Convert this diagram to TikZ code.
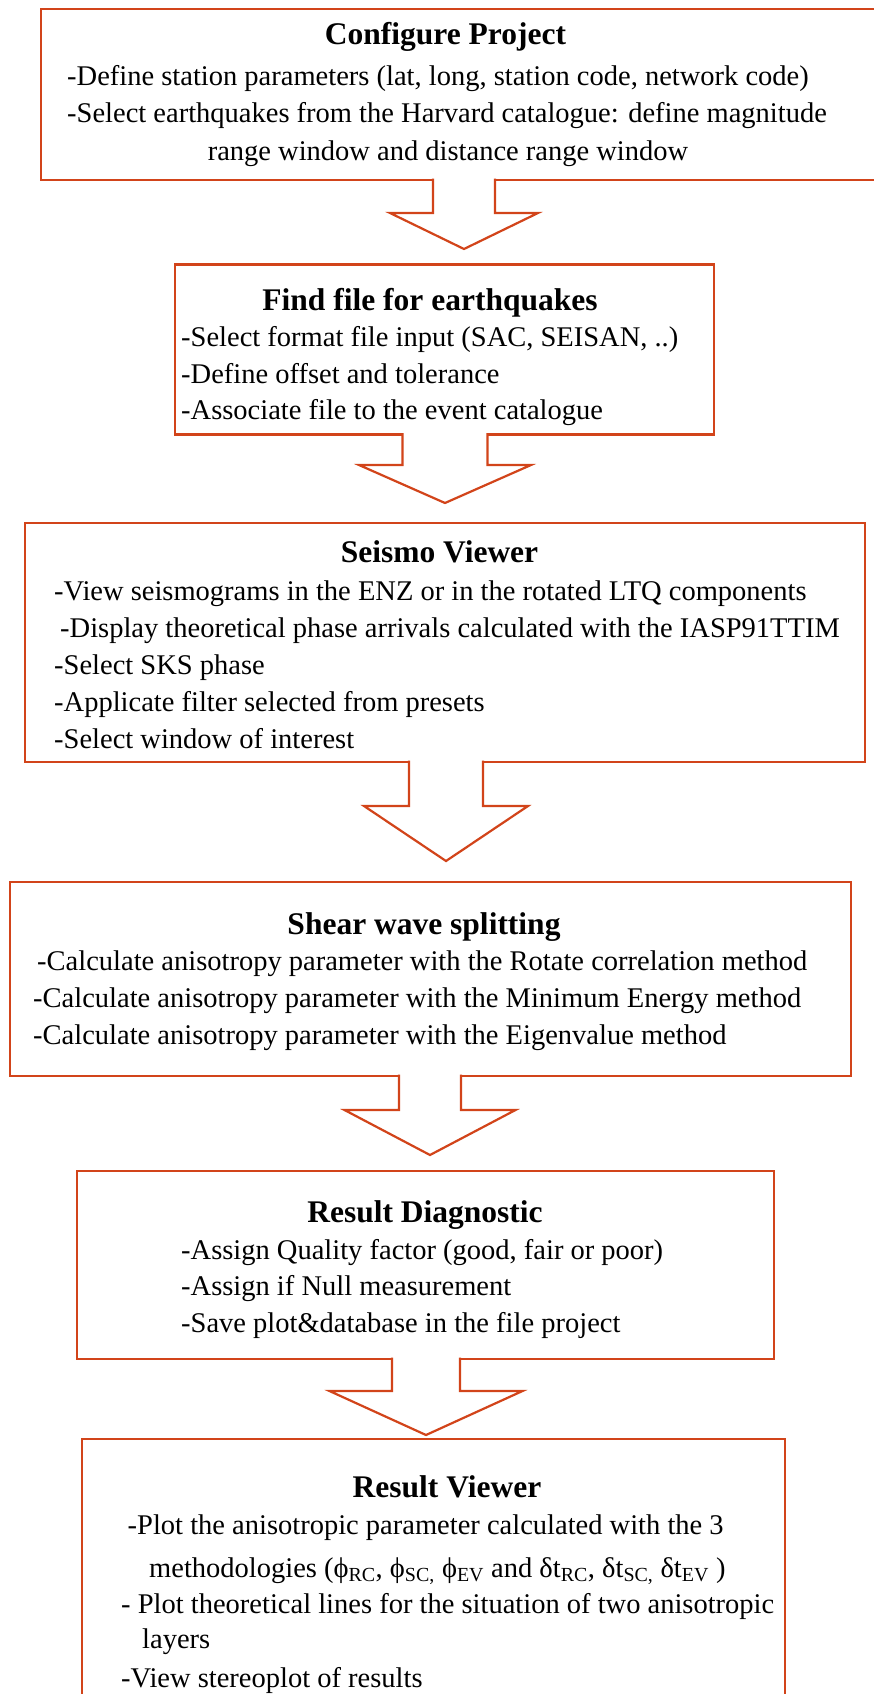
\documentclass[tikz,border=0pt]{standalone}
\usepackage{fontspec}
\setmainfont{Liberation Serif}
\usetikzlibrary{calc}
\definecolor{boxred}{RGB}{210,68,26}
\begin{document}
\begin{tikzpicture}[x=1pt,y=-1pt,
  flowbox/.style={draw=boxred, line width=2.2pt, rectangle, inner sep=0pt, outer sep=0pt},
  blockarrow/.style={draw=boxred, fill=white, line width=2.2pt},
  boxtitle/.style={font=\fontsize{31.5}{36}\selectfont\bfseries, anchor=base, inner sep=0pt},
  boxline/.style={font=\fontsize{28.5}{36}\selectfont, anchor=base west, inner sep=0pt}]
\useasboundingbox (0,0) rectangle (874,1694);
\clip (0,0) rectangle (874,1694);
% the six steps
\node[flowbox, minimum width=843pt, minimum height=171pt] (project) at (462.5,94.5){};
\node[flowbox, minimum width=539pt, minimum height=170pt] (findfile) at (444.5,349.5){};
\node[flowbox, minimum width=840pt, minimum height=239pt] (viewer) at (445,642.5){};
\node[flowbox, minimum width=841pt, minimum height=194pt] (splitting) at (430.5,979){};
\node[flowbox, minimum width=697pt, minimum height=188pt] (diagnostic) at (425.5,1265){};
\node[flowbox, minimum width=703pt, minimum height=281pt] (results) at (433.5,1579.5){};
% texts
\node[boxtitle] (t1) at (445.5,45){Configure Project};
\node[boxline] (l1a) at (67,85){-Define station parameters (lat, long, station code, network code)};
\node[boxline] (l1b) at (67,122){-Select earthquakes from the Harvard catalogue: define magnitude};
\node[boxline, anchor=base] (l1c) at (448,160){range window and distance range window};
\node[boxtitle] (t2) at (430,310){Find file for earthquakes};
\node[boxline] (l2a) at (181,346){-Select format file input (SAC, SEISAN, ..)};
\node[boxline] (l2b) at (181,383){-Define offset and tolerance};
\node[boxline] (l2c) at (181,419){-Associate file to the event catalogue};
\node[boxtitle] (t3) at (439.5,562){Seismo Viewer};
\node[boxline] (l3a) at (54,600){-View seismograms in the ENZ or in the rotated LTQ components};
\node[boxline] (l3b) at (60,637){-Display theoretical phase arrivals calculated with the IASP91TTIM};
\node[boxline] (l3c) at (54,674){-Select SKS phase};
\node[boxline] (l3d) at (54,711){-Applicate filter selected from presets};
\node[boxline] (l3e) at (54,748){-Select window of interest};
\node[boxtitle] (t4) at (424,934){Shear wave splitting};
\node[boxline] (l4a) at (37,970){-Calculate anisotropy parameter with the Rotate correlation method};
\node[boxline] (l4b) at (33,1007){-Calculate anisotropy parameter with the Minimum Energy method};
\node[boxline] (l4c) at (33,1044){-Calculate anisotropy parameter with the Eigenvalue method};
\node[boxtitle] (t5) at (425,1222){Result Diagnostic};
\node[boxline] (l5a) at (181,1259){-Assign Quality factor (good, fair or poor)};
\node[boxline] (l5b) at (181,1295){-Assign if Null measurement};
\node[boxline] (l5c) at (181,1332){-Save plot\&database in the file project};
\node[boxtitle] (t6) at (447,1497){Result Viewer};
\node[boxline] (l6a) at (127.5,1534){-Plot the anisotropic parameter calculated with the 3};
\node[boxline] (l6b) at (149,1577){methodologies (ϕ\textsubscript{RC}, ϕ\textsubscript{SC,} ϕ\textsubscript{EV} and δt\textsubscript{RC}, δt\textsubscript{SC,} δt\textsubscript{EV} )};
\node[boxline] (l6c) at (121,1613){- Plot theoretical lines for the situation of two anisotropic};
\node[boxline] (l6d) at (142,1648){layers};
\node[boxline] (l6e) at (121,1687){-View stereoplot of results};
% block arrows between the steps
\coordinate (tip1) at (464,249);
\coordinate (tip2) at (445,503);
\coordinate (tip3) at (446,861);
\coordinate (tip4) at (430,1155);
\coordinate (tip5) at (426,1435);
\filldraw[blockarrow] ($(tip1 |- project.south)+(-31,-1.5)$) -- ($(tip1)+(-31,-36)$) -- ($(tip1)+(-74,-36)$) -- (tip1)
  -- ($(tip1)+(74,-36)$) -- ($(tip1)+(31,-36)$) -- ($(tip1 |- project.south)+(31,-1.5)$);
\filldraw[blockarrow] ($(tip2 |- findfile.south)+(-42.5,-1.5)$) -- ($(tip2)+(-42.5,-38)$) -- ($(tip2)+(-86,-38)$) -- (tip2)
  -- ($(tip2)+(86,-38)$) -- ($(tip2)+(42.5,-38)$) -- ($(tip2 |- findfile.south)+(42.5,-1.5)$);
\filldraw[blockarrow] ($(tip3 |- viewer.south)+(-37,-1.5)$) -- ($(tip3)+(-37,-55)$) -- ($(tip3)+(-82,-55)$) -- (tip3)
  -- ($(tip3)+(82,-55)$) -- ($(tip3)+(37,-55)$) -- ($(tip3 |- viewer.south)+(37,-1.5)$);
\filldraw[blockarrow] ($(tip4 |- splitting.south)+(-31,-1.5)$) -- ($(tip4)+(-31,-45)$) -- ($(tip4)+(-85.5,-45)$) -- (tip4)
  -- ($(tip4)+(85.5,-45)$) -- ($(tip4)+(31,-45)$) -- ($(tip4 |- splitting.south)+(31,-1.5)$);
\filldraw[blockarrow] ($(tip5 |- diagnostic.south)+(-34,-1.5)$) -- ($(tip5)+(-34,-44)$) -- ($(tip5)+(-96.5,-44)$) -- (tip5)
  -- ($(tip5)+(96.5,-44)$) -- ($(tip5)+(34,-44)$) -- ($(tip5 |- diagnostic.south)+(34,-1.5)$);
\end{tikzpicture}
\end{document}
